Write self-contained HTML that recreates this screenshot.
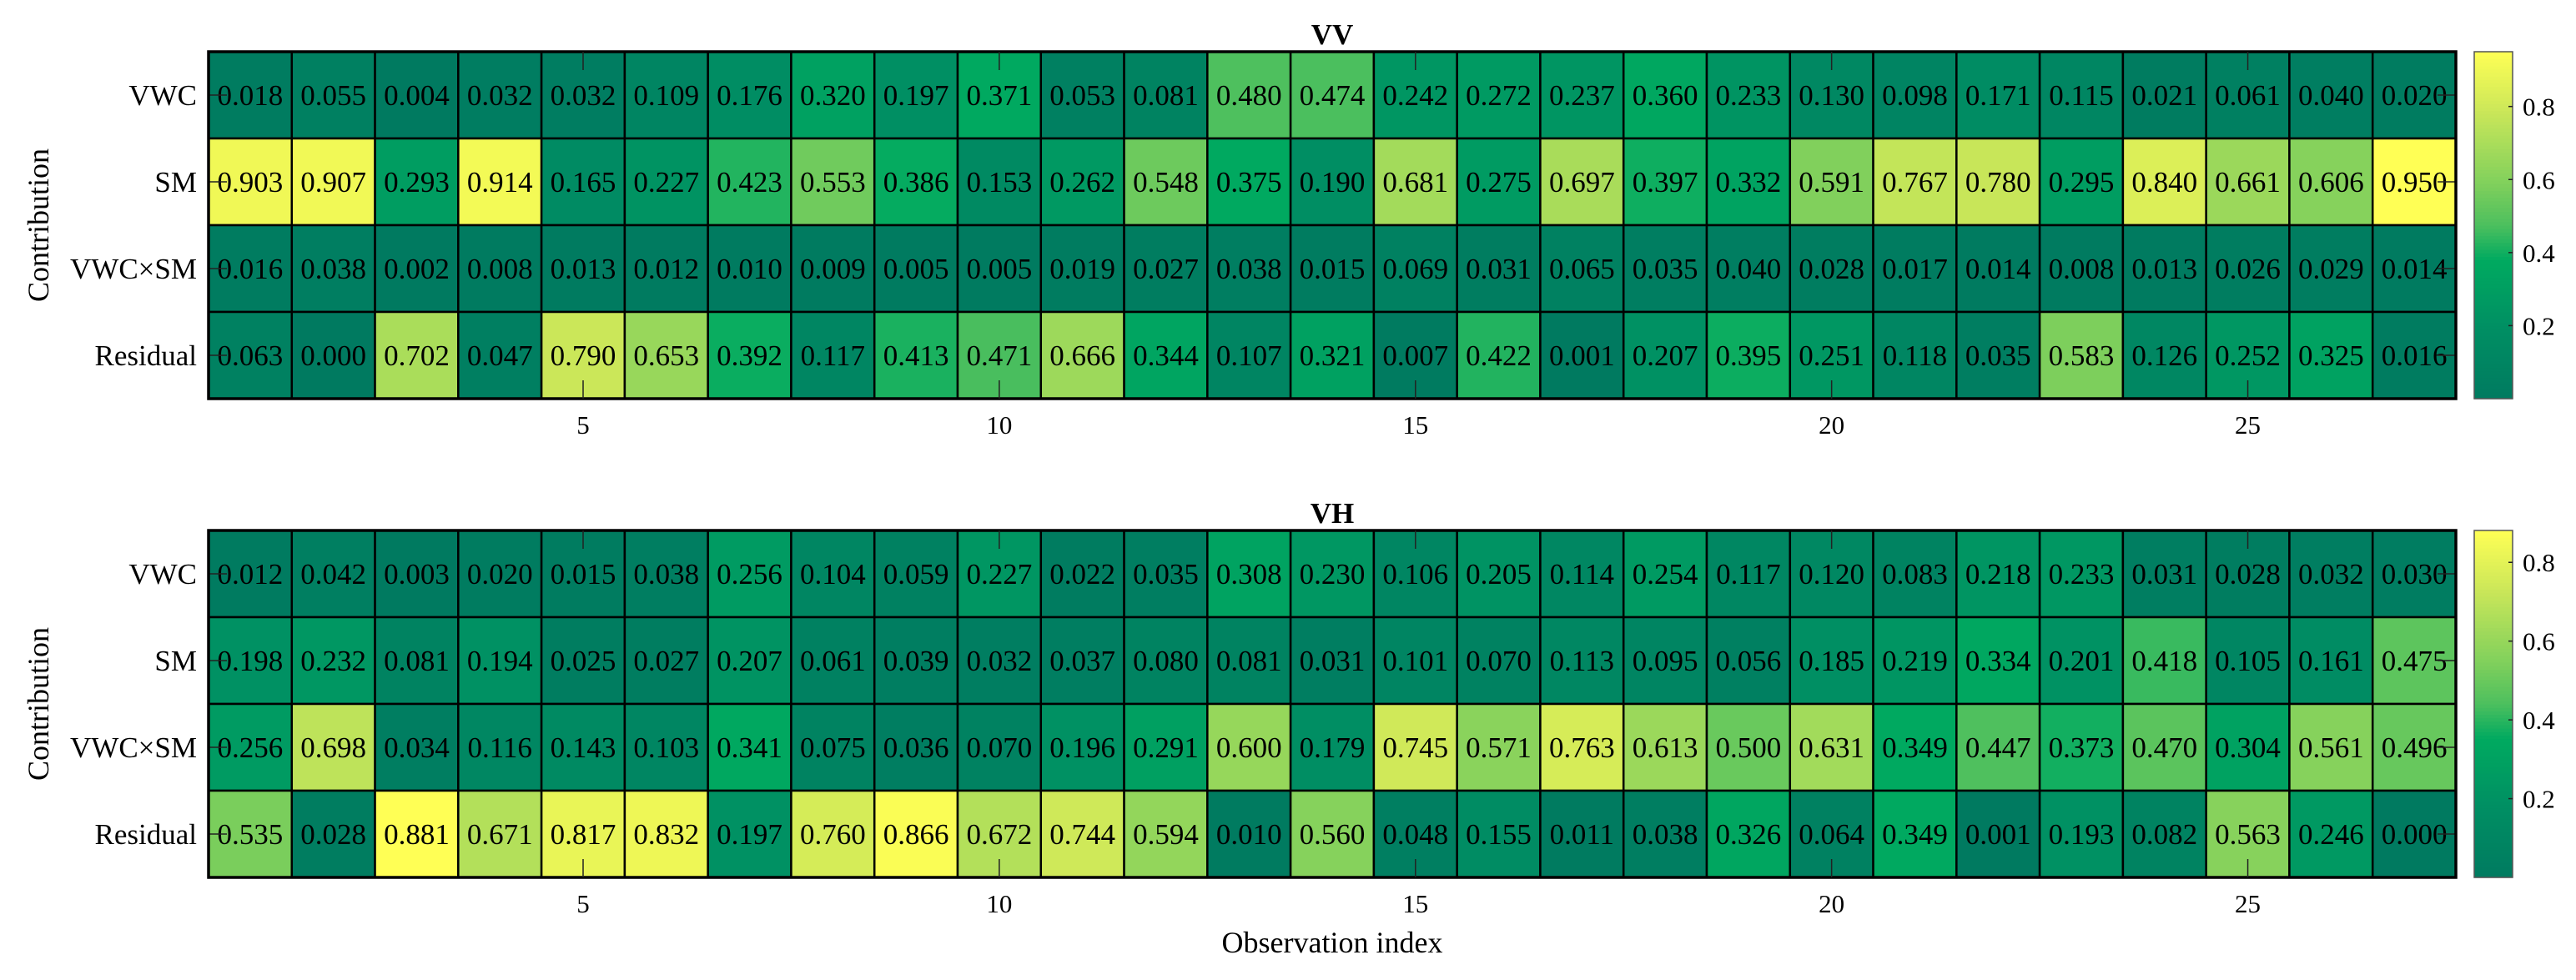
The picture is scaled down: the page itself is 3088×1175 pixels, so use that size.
<!DOCTYPE html>
<html><head><meta charset="utf-8"><style>
html,body{margin:0;padding:0;background:#fff;}
svg{display:block;font-family:"Liberation Serif","Times New Roman",serif;}
</style></head><body>
<svg id="chart" width="3088" height="1175" viewBox="0 0 3088 1175" xmlns="http://www.w3.org/2000/svg"></svg>
<script>
const rowLabels = ["VWC","SM","VWC×SM","Residual"];
const xTicks = [5,10,15,20,25];
const vvVWC = [0.018,0.055,0.004,0.032,0.032,0.109,0.176,0.320,0.197,0.371,0.053,0.081,0.480,0.474,0.242,0.272,0.237,0.360,0.233,0.130,0.098,0.171,0.115,0.021,0.061,0.040,0.020];
const vvSM = [0.903,0.907,0.293,0.914,0.165,0.227,0.423,0.553,0.386,0.153,0.262,0.548,0.375,0.190,0.681,0.275,0.697,0.397,0.332,0.591,0.767,0.780,0.295,0.840,0.661,0.606,0.950];
const vvInt = [0.016,0.038,0.002,0.008,0.013,0.012,0.010,0.009,0.005,0.005,0.019,0.027,0.038,0.015,0.069,0.031,0.065,0.035,0.040,0.028,0.017,0.014,0.008,0.013,0.026,0.029,0.014];
const vvRes = [0.063,0.000,0.702,0.047,0.790,0.653,0.392,0.117,0.413,0.471,0.666,0.344,0.107,0.321,0.007,0.422,0.001,0.207,0.395,0.251,0.118,0.035,0.583,0.126,0.252,0.325,0.016];
const vhVWC = [0.012,0.042,0.003,0.020,0.015,0.038,0.256,0.104,0.059,0.227,0.022,0.035,0.308,0.230,0.106,0.205,0.114,0.254,0.117,0.120,0.083,0.218,0.233,0.031,0.028,0.032,0.030];
const vhSM = [0.198,0.232,0.081,0.194,0.025,0.027,0.207,0.061,0.039,0.032,0.037,0.080,0.081,0.031,0.101,0.070,0.113,0.095,0.056,0.185,0.219,0.334,0.201,0.418,0.105,0.161,0.475];
const vhInt = [0.256,0.698,0.034,0.116,0.143,0.103,0.341,0.075,0.036,0.070,0.196,0.291,0.600,0.179,0.745,0.571,0.763,0.613,0.500,0.631,0.349,0.447,0.373,0.470,0.304,0.561,0.496];
const vhRes = [0.535,0.028,0.881,0.671,0.817,0.832,0.197,0.760,0.866,0.672,0.744,0.594,0.010,0.560,0.048,0.155,0.011,0.038,0.326,0.064,0.349,0.001,0.193,0.082,0.563,0.246,0.000];
const cbTicks = [0.2,0.4,0.6,0.8];

const NS="http://www.w3.org/2000/svg";
const svg=document.getElementById('chart');
function mk(tag,attrs,parent){const e=document.createElementNS(NS,tag);for(const k in attrs)e.setAttribute(k,attrs[k]);(parent||svg).appendChild(e);return e;}
const stops=[[0,[0,122,96]],[0.2,[0,142,99]],[0.4,[0,170,96]],[0.5,[76,191,94]],[0.62,[128,208,92]],[0.83,[203,231,89]],[1,[255,255,85]]];
function cmap(t){t=Math.max(0,Math.min(1,t));for(let i=1;i<stops.length;i++){if(t<=stops[i][0]){const a=stops[i-1],b=stops[i];const f=(t-a[0])/(b[0]-a[0]);const c=a[1].map((v,j)=>Math.round(v+(b[1][j]-v)*f));return `rgb(${c[0]},${c[1]},${c[2]})`;}}return 'rgb(255,255,85)';}

const X0=250,X1=2944,NC=27,CW=(X1-X0)/NC,RH=104;
function drawPanel(name,title,top,rows){
  const g=mk('g',{});
  
  
  const vmax=Math.max(...rows.flat());
  const xs=i=>X0+i*CW, ys=r=>top+r*RH;
  rows.forEach((arr,r)=>{arr.forEach((v,i)=>{
    const rc=mk('rect',{x:xs(i),y:ys(r),width:CW,height:RH,fill:cmap(v/vmax),stroke:'#000','stroke-width':2.5},g);
    
    
    const t=mk('text',{x:xs(i)+CW/2,y:ys(r)+RH/2+12,'text-anchor':'middle','font-size':35,fill:'#000'},g);
    
    
    t.textContent=v.toFixed(3);
  });
  const yl=mk('text',{x:236,y:ys(r)+RH/2+12,'text-anchor':'end','font-size':35},g);
  
  
  yl.textContent=rowLabels[r];
  mk('line',{x1:X0,x2:X0+22,y1:ys(r)+RH/2,y2:ys(r)+RH/2,stroke:'#222','stroke-width':1.5},g);
  mk('line',{x1:X1-22,x2:X1,y1:ys(r)+RH/2,y2:ys(r)+RH/2,stroke:'#222','stroke-width':1.5},g);
  });
  const bottom=top+RH*rows.length;
  mk('rect',{x:X0,y:top,width:X1-X0,height:bottom-top,fill:'none',stroke:'#000','stroke-width':3.5},g);
  xTicks.forEach(k=>{const x=xs(k-0.5);
    mk('line',{x1:x,x2:x,y1:top,y2:top+22,stroke:'#222','stroke-width':1.5},g);
    mk('line',{x1:x,x2:x,y1:bottom-22,y2:bottom,stroke:'#222','stroke-width':1.5},g);
    const tl=mk('text',{x:x,y:bottom+42,'text-anchor':'middle','font-size':31},g);
    
    
    tl.textContent=k;});
  const tt=mk('text',{x:(X0+X1)/2,y:top-9,'text-anchor':'middle','font-size':35,'font-weight':'bold'},g);
  
  
  tt.textContent=title;
  const yt=mk('text',{x:58,y:(top+bottom)/2,'text-anchor':'middle','font-size':36,transform:`rotate(-90 58 ${(top+bottom)/2})`},g);
  
  
  yt.textContent='Contribution';
  // colorbar
  const cb=mk('g',{},g);
  
  
  const CX=2966,CWd=46,N=100,H=bottom-top;
  for(let j=0;j<N;j++){mk('rect',{x:CX,y:bottom-(j+1)*H/N,width:CWd,height:H/N+0.6,fill:cmap((j+0.5)/N),stroke:'none'},cb);}
  mk('rect',{x:CX,y:top,width:CWd,height:H,fill:'none',stroke:'#555','stroke-width':1.5},cb);
  const cy=v=>bottom-v/vmax*H;
  cbTicks.forEach(v=>{if(v>vmax)return;const y=cy(v);
    mk('line',{x1:CX+CWd-5,x2:CX+CWd,y1:y,y2:y,stroke:'#222','stroke-width':1.5},cb);
    const ct=mk('text',{x:3024,y:y+11,'font-size':31},cb);
    
    
    ct.textContent=v.toFixed(1);});
}
drawPanel('vv','VV',62,[vvVWC,vvSM,vvInt,vvRes]);
drawPanel('vh','VH',636,[vhVWC,vhSM,vhInt,vhRes]);
const xl=mk('text',{x:(X0+X1)/2,y:1142,'text-anchor':'middle','font-size':36});


xl.textContent='Observation index';
</script>
</body></html>
